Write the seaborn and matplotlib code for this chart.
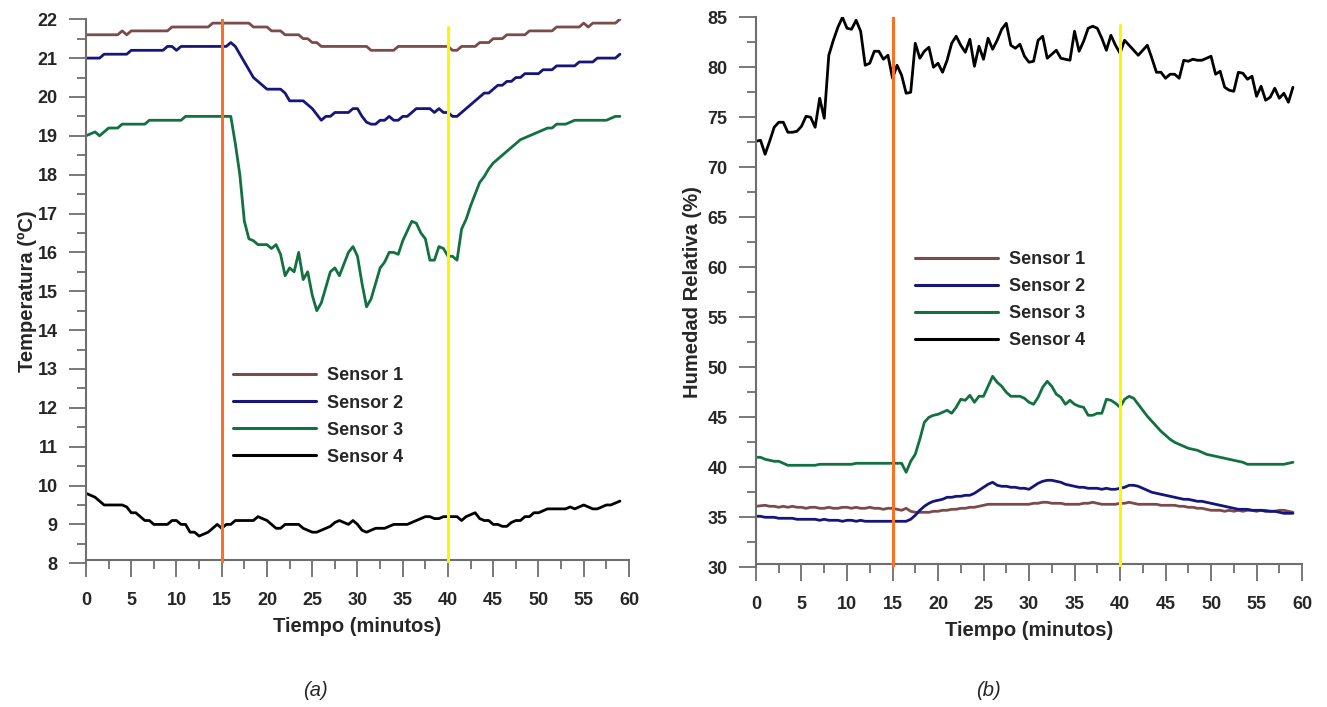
import numpy as np
import pandas as pd
import matplotlib
matplotlib.use("Agg")
import matplotlib.pyplot as plt
import seaborn as sns
from matplotlib.ticker import MultipleLocator

# ---------------- data ----------------
time_min = np.arange(0, 59.5, 0.5)          # sampling times (minutes)
sensor_names = ["Sensor 1", "Sensor 2", "Sensor 3", "Sensor 4"]
event_times = [15, 40]                      # orange / yellow markers

temp_s1 = [21.6, 21.6, 21.6, 21.6, 21.6, 21.6, 21.6, 21.6, 21.7, 21.6,
           21.7, 21.7, 21.7, 21.7, 21.7, 21.7, 21.7, 21.7, 21.7, 21.8,
           21.8, 21.8, 21.8, 21.8, 21.8, 21.8, 21.8, 21.8, 21.9, 21.9,
           21.9, 21.9, 21.9, 21.9, 21.9, 21.9, 21.9, 21.8, 21.8, 21.8,
           21.8, 21.7, 21.7, 21.7, 21.6, 21.6, 21.6, 21.6, 21.5, 21.5,
           21.4, 21.4, 21.3, 21.3, 21.3, 21.3, 21.3, 21.3, 21.3, 21.3,
           21.3, 21.3, 21.3, 21.2, 21.2, 21.2, 21.2, 21.2, 21.2, 21.3,
           21.3, 21.3, 21.3, 21.3, 21.3, 21.3, 21.3, 21.3, 21.3, 21.3,
           21.3, 21.2, 21.2, 21.3, 21.3, 21.3, 21.3, 21.4, 21.4, 21.4,
           21.5, 21.5, 21.5, 21.6, 21.6, 21.6, 21.6, 21.6, 21.7, 21.7,
           21.7, 21.7, 21.7, 21.7, 21.8, 21.8, 21.8, 21.8, 21.8, 21.8,
           21.9, 21.8, 21.9, 21.9, 21.9, 21.9, 21.9, 21.9, 22.0]

temp_s2 = [21.0, 21.0, 21.0, 21.0, 21.1, 21.1, 21.1, 21.1, 21.1, 21.1,
           21.2, 21.2, 21.2, 21.2, 21.2, 21.2, 21.2, 21.2, 21.3, 21.3,
           21.2, 21.3, 21.3, 21.3, 21.3, 21.3, 21.3, 21.3, 21.3, 21.3,
           21.3, 21.3, 21.4, 21.3, 21.1, 20.9, 20.7, 20.5, 20.4, 20.3,
           20.2, 20.2, 20.2, 20.2, 20.1, 19.9, 19.9, 19.9, 19.9, 19.8,
           19.7, 19.55, 19.4, 19.5, 19.5, 19.6, 19.6, 19.6, 19.6, 19.7,
           19.7, 19.5, 19.35, 19.3, 19.3, 19.4, 19.4, 19.5, 19.4, 19.4,
           19.5, 19.5, 19.6, 19.7, 19.7, 19.7, 19.7, 19.6, 19.7, 19.6,
           19.6, 19.5, 19.5, 19.6, 19.7, 19.8, 19.9, 20.0, 20.1, 20.1,
           20.2, 20.3, 20.3, 20.4, 20.4, 20.5, 20.5, 20.6, 20.6, 20.6,
           20.6, 20.7, 20.7, 20.7, 20.8, 20.8, 20.8, 20.8, 20.8, 20.9,
           20.9, 20.9, 20.9, 21.0, 21.0, 21.0, 21.0, 21.0, 21.1]

temp_s3 = [19.0, 19.05, 19.1, 19.0, 19.1, 19.2, 19.2, 19.2, 19.3, 19.3,
           19.3, 19.3, 19.3, 19.3, 19.4, 19.4, 19.4, 19.4, 19.4, 19.4,
           19.4, 19.4, 19.5, 19.5, 19.5, 19.5, 19.5, 19.5, 19.5, 19.5,
           19.5, 19.5, 19.5, 18.8, 18.0, 16.8, 16.35, 16.3, 16.2, 16.2,
           16.2, 16.1, 16.2, 15.95, 15.4, 15.6, 15.5, 16.0, 15.3, 15.5,
           14.9, 14.5, 14.7, 15.1, 15.5, 15.6, 15.4, 15.7, 16.0, 16.15,
           15.9, 15.2, 14.6, 14.8, 15.2, 15.6, 15.75, 16.0, 16.0, 15.95,
           16.3, 16.55, 16.8, 16.75, 16.5, 16.35, 15.8, 15.8, 16.15, 16.1,
           15.9, 15.9, 15.8, 16.6, 16.85, 17.2, 17.5, 17.8, 17.95, 18.15,
           18.3, 18.4, 18.5, 18.6, 18.7, 18.8, 18.9, 18.95, 19.0, 19.05,
           19.1, 19.15, 19.2, 19.2, 19.3, 19.3, 19.3, 19.35, 19.4, 19.4,
           19.4, 19.4, 19.4, 19.4, 19.4, 19.4, 19.45, 19.5, 19.5]

temp_s4 = [9.8, 9.75, 9.7, 9.6, 9.5, 9.5, 9.5, 9.5, 9.5, 9.45,
           9.3, 9.3, 9.2, 9.1, 9.1, 9.0, 9.0, 9.0, 9.0, 9.1,
           9.1, 9.0, 9.0, 8.8, 8.8, 8.7, 8.75, 8.8, 8.9, 9.0,
           8.9, 9.0, 9.0, 9.1, 9.1, 9.1, 9.1, 9.1, 9.2, 9.15,
           9.1, 9.0, 8.9, 8.9, 9.0, 9.0, 9.0, 9.0, 8.9, 8.85,
           8.8, 8.8, 8.85, 8.9, 8.95, 9.05, 9.1, 9.05, 9.0, 9.1,
           9.0, 8.85, 8.8, 8.85, 8.9, 8.9, 8.9, 8.95, 9.0, 9.0,
           9.0, 9.0, 9.05, 9.1, 9.15, 9.2, 9.2, 9.15, 9.15, 9.2,
           9.2, 9.2, 9.2, 9.1, 9.2, 9.25, 9.3, 9.15, 9.1, 9.1,
           9.0, 9.0, 8.95, 8.95, 9.05, 9.1, 9.1, 9.2, 9.2, 9.3,
           9.3, 9.35, 9.4, 9.4, 9.4, 9.4, 9.4, 9.45, 9.4, 9.45,
           9.5, 9.45, 9.4, 9.4, 9.45, 9.5, 9.5, 9.55, 9.6]

hum_s1 = [36.1, 36.15, 36.2, 36.1, 36.1, 36.0, 36.1, 36.0, 36.1, 36.0,
          36.0, 35.9, 36.0, 36.0, 35.9, 35.9, 36.0, 35.9, 35.9, 36.0,
          36.0, 35.9, 36.0, 35.9, 35.9, 36.0, 35.9, 35.9, 35.8, 35.9,
          35.9, 35.8, 35.7, 35.9, 35.6, 35.5, 35.5, 35.5, 35.5, 35.6,
          35.6, 35.7, 35.7, 35.8, 35.8, 35.9, 35.9, 36.0, 36.0, 36.1,
          36.2, 36.3, 36.3, 36.3, 36.3, 36.3, 36.3, 36.3, 36.3, 36.3,
          36.3, 36.4, 36.4, 36.5, 36.5, 36.4, 36.4, 36.4, 36.3, 36.3,
          36.3, 36.3, 36.4, 36.4, 36.5, 36.4, 36.3, 36.3, 36.3, 36.3,
          36.4, 36.4, 36.5, 36.4, 36.3, 36.3, 36.3, 36.3, 36.3, 36.2,
          36.2, 36.2, 36.2, 36.1, 36.1, 36.0, 36.0, 35.9, 35.9, 35.8,
          35.7, 35.7, 35.7, 35.6, 35.7, 35.6, 35.7, 35.6, 35.7, 35.7,
          35.6, 35.7, 35.7, 35.6, 35.6, 35.7, 35.7, 35.6, 35.5]

hum_s2 = [35.1, 35.1, 35.0, 35.0, 35.0, 34.9, 34.9, 34.9, 34.9, 34.8,
          34.8, 34.8, 34.8, 34.8, 34.7, 34.8, 34.7, 34.7, 34.7, 34.6,
          34.7, 34.7, 34.6, 34.7, 34.6, 34.6, 34.6, 34.6, 34.6, 34.6,
          34.6, 34.6, 34.6, 34.6, 34.8, 35.2, 35.7, 36.1, 36.4, 36.6,
          36.7, 36.8, 37.0, 37.0, 37.1, 37.1, 37.2, 37.2, 37.4, 37.7,
          38.0, 38.3, 38.5, 38.2, 38.1, 38.1, 38.0, 38.0, 37.9, 37.9,
          37.8, 38.1, 38.4, 38.6, 38.7, 38.7, 38.6, 38.5, 38.3, 38.2,
          38.1, 38.0, 38.0, 37.9, 37.9, 37.9, 37.8, 37.9, 37.8, 37.8,
          37.9, 38.0, 38.2, 38.2, 38.1, 37.9, 37.7, 37.5, 37.4, 37.3,
          37.2, 37.1, 37.0, 36.9, 36.8, 36.8, 36.7, 36.6, 36.6, 36.5,
          36.4, 36.3, 36.2, 36.1, 36.0, 35.9, 35.8, 35.8, 35.8, 35.7,
          35.7, 35.7, 35.6, 35.6, 35.6, 35.5, 35.4, 35.4, 35.4]

hum_s3 = [41.0, 41.0, 40.8, 40.7, 40.6, 40.6, 40.4, 40.2, 40.2, 40.2,
          40.2, 40.2, 40.2, 40.2, 40.3, 40.3, 40.3, 40.3, 40.3, 40.3,
          40.3, 40.3, 40.4, 40.4, 40.4, 40.4, 40.4, 40.4, 40.4, 40.4,
          40.4, 40.4, 40.4, 39.5, 40.6, 41.3, 42.8, 44.5, 45.0, 45.2,
          45.3, 45.5, 45.7, 45.4, 46.0, 46.8, 46.7, 47.2, 46.5, 47.1,
          47.1, 48.1, 49.1, 48.5, 48.1, 47.5, 47.1, 47.1, 47.1, 46.9,
          46.5, 46.3, 47.0, 48.0, 48.6, 48.1, 47.3, 47.0, 46.3, 46.7,
          46.3, 46.1, 46.0, 45.2, 45.2, 45.4, 45.4, 46.8, 46.7, 46.4,
          46.0, 46.8, 47.1, 46.9, 46.3, 45.7, 45.1, 44.6, 44.1, 43.6,
          43.2, 42.8, 42.5, 42.3, 42.1, 41.9, 41.8, 41.7, 41.5, 41.3,
          41.2, 41.1, 41.0, 40.9, 40.8, 40.7, 40.6, 40.5, 40.3, 40.3,
          40.3, 40.3, 40.3, 40.3, 40.3, 40.3, 40.3, 40.4, 40.5]

hum_s4 = [72.6, 72.7, 71.3, 72.6, 74.0, 74.5, 74.5, 73.5, 73.5, 73.6,
          74.1, 75.1, 75.0, 74.0, 76.9, 74.9, 81.2, 82.7, 84.0, 85.0,
          83.9, 83.8, 84.7, 83.6, 80.2, 80.4, 81.6, 81.6, 80.8, 81.2,
          78.9, 80.2, 79.2, 77.4, 77.5, 82.4, 80.9, 81.6, 82.0, 80.0,
          80.4, 79.5, 80.7, 82.4, 83.1, 82.2, 81.5, 82.8, 80.1, 82.1,
          80.8, 82.9, 81.8, 82.7, 83.8, 84.4, 82.2, 81.9, 82.3, 81.1,
          80.5, 80.6, 82.7, 83.1, 80.9, 81.3, 81.7, 80.9, 80.8, 80.7,
          83.6, 81.6, 82.6, 83.9, 84.1, 83.9, 82.9, 81.7, 83.2, 82.2,
          81.4, 82.7, 82.2, 81.7, 81.2, 81.7, 82.2, 80.9, 79.5, 79.5,
          78.9, 79.3, 79.3, 78.9, 80.7, 80.6, 80.8, 80.7, 80.7, 80.9,
          81.1, 79.3, 79.6, 78.0, 77.7, 77.6, 79.5, 79.4, 78.8, 79.1,
          77.1, 78.1, 76.7, 77.0, 77.9, 76.9, 77.4, 76.5, 78.0]

for arr in (temp_s1, temp_s2, temp_s3, temp_s4, hum_s1, hum_s2, hum_s3, hum_s4):
    assert len(arr) == len(time_min), len(arr)

# ---------------- styles ----------------
sensor_colors = {"Sensor 1": "#7B4B4B", "Sensor 2": "#16167A",
                 "Sensor 3": "#137040", "Sensor 4": "#000000"}
event_colors = ["#FA7025", "#FFF500"]
axis_gray = "#6E6E6E"

sns.set_style("ticks")
plt.rcParams["font.family"] = ["Liberation Sans", "DejaVu Sans"]


def long_frame(series):
    frames = []
    for name, vals in zip(sensor_names, series):
        frames.append(pd.DataFrame({"t": time_min, "v": vals, "sensor": name}))
    return pd.concat(frames, ignore_index=True)


df_temp = long_frame([temp_s1, temp_s2, temp_s3, temp_s4])
df_hum = long_frame([hum_s1, hum_s2, hum_s3, hum_s4])

fig = plt.figure(figsize=(13.27, 7.07), dpi=100)
ax1 = fig.add_axes([0.0648, 0.2033, 0.4092, 0.7695])
ax2 = fig.add_axes([0.5697, 0.1976, 0.4115, 0.7780])


def style_axis(ax, ylim, ymajor, yminor, ylabel, ylabelpad, yellow_top, legend_anchor):
    for t, c, top in zip(event_times, event_colors, [1.0, yellow_top]):
        ax.axvline(t, ymin=0, ymax=top, color=c, lw=2.2, zorder=3)
    ax.set_xlim(0, 60)
    ax.set_ylim(*ylim)
    ax.xaxis.set_major_locator(MultipleLocator(5))
    ax.xaxis.set_minor_locator(MultipleLocator(2.5))
    ax.yaxis.set_major_locator(MultipleLocator(ymajor))
    ax.yaxis.set_minor_locator(MultipleLocator(yminor))
    for s in ("top", "right"):
        ax.spines[s].set_visible(False)
    for s in ("left", "bottom"):
        ax.spines[s].set_color(axis_gray)
        ax.spines[s].set_linewidth(1.5)
    ax.spines["bottom"].set_position(("outward", -2.5))
    ax.tick_params(which="both", bottom=True, left=True, top=False, right=False)
    ax.tick_params(which="major", direction="out", length=12.5, width=1.3,
                   color=axis_gray, labelsize=13, pad=8)
    ax.tick_params(which="minor", direction="out", length=6.5, width=1.3,
                   color=axis_gray)
    ax.tick_params(axis="x", which="major", pad=10.5)
    for lab in ax.get_xticklabels() + ax.get_yticklabels():
        lab.set_fontweight("bold")
    ax.set_xlabel("Tiempo (minutos)", fontsize=14.5, fontweight="bold", labelpad=6)
    ax.set_ylabel(ylabel, fontsize=14.5, fontweight="bold", labelpad=ylabelpad)
    ax.grid(False)
    handles, labels = ax.get_legend_handles_labels()
    leg = ax.legend(handles, labels, loc="upper left", bbox_to_anchor=legend_anchor,
                    frameon=False, borderpad=0, borderaxespad=0, handlelength=4.6,
                    handletextpad=0.6, labelspacing=0.56,
                    prop={"weight": "bold", "size": 13})
    for h in leg.legend_handles:
        h.set_linewidth(2.2)


sns.lineplot(data=df_temp, x="t", y="v", hue="sensor", palette=sensor_colors,
             linewidth=2.0, estimator=None, ax=ax1)
style_axis(ax1, (8, 22), 1, 0.5, "Temperatura (ºC)", 0.5, 0.985, (0.271, 0.360))

sns.lineplot(data=df_hum, x="t", y="v", hue="sensor", palette=sensor_colors,
             linewidth=2.0, estimator=None, ax=ax2)
style_axis(ax2, (30, 85), 5, 2.5, "Humedad Relativa (%)", 4, 0.986, (0.291, 0.575))

fig.text(315 / 1327, 1 - 690 / 707, "(a)", style="italic", fontsize=14.5,
         ha="center", va="center")
fig.text(988 / 1327, 1 - 690 / 707, "(b)", style="italic", fontsize=14.5,
         ha="center", va="center")

fig.savefig("out.png", dpi=100)
